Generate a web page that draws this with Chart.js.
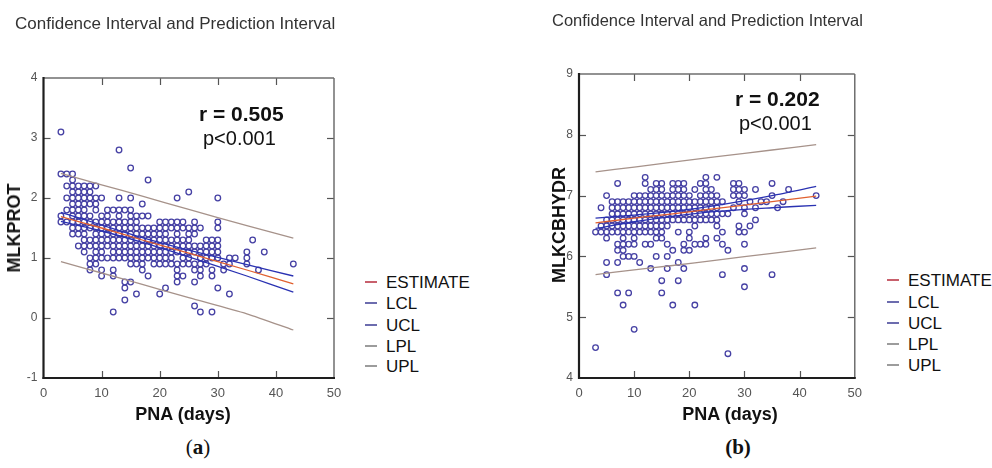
<!DOCTYPE html>
<html>
<head>
<meta charset="utf-8">
<script src="https://cdn.jsdelivr.net/npm/chart.js@4.4.1/dist/chart.umd.min.js"></script>
<style>
  html, body { margin: 0; padding: 0; background: #fff; }
  #wrap { position: relative; width: 992px; height: 468px; overflow: hidden;
          font-family: "Liberation Sans", Arial, sans-serif; color: #111; }
  canvas { position: absolute; top: 0; }
  .t { position: absolute; white-space: nowrap; line-height: 1; }
  .mid { transform: translateY(-50%); }
  .ctr { transform: translate(-50%, -50%); }
  .rot { transform: translate(-50%, -50%) rotate(-90deg); }
  .title { color: #333; }
  .bold { font-weight: bold; }
  .sw { position: absolute; height: 1.5px; width: 12px; }
  .cap { font-family: "Liberation Serif", "DejaVu Serif", serif; font-size: 21px; }
</style>
</head>
<body>
<div id="wrap">
  <canvas id="chartA" width="350" height="430" style="left:0px"></canvas>
  <canvas id="chartB" width="330" height="430" style="left:540px"></canvas>

  <div class="t mid title" style="left:15px;top:23px;font-size:17px">Confidence Interval and Prediction Interval</div>
  <div class="t mid title" style="left:552px;top:20px;font-size:16.5px">Confidence Interval and Prediction Interval</div>

  <div class="t mid bold" style="left:199px;top:113px;font-size:21px">r = 0.505</div>
  <div class="t mid" style="left:203px;top:138px;font-size:20px">p&lt;0.001</div>
  <div class="t mid bold" style="left:735px;top:98px;font-size:21px">r = 0.202</div>
  <div class="t mid" style="left:739px;top:123px;font-size:20px">p&lt;0.001</div>

  <div class="t rot bold" style="left:14px;top:228px;font-size:18px">MLKPROT</div>
  <div class="t rot bold" style="left:559px;top:225px;font-size:18px">MLKCBHYDR</div>
  <div class="t ctr bold" style="left:183px;top:414px;font-size:18px">PNA (days)</div>
  <div class="t ctr bold" style="left:730px;top:414px;font-size:18px">PNA (days)</div>

  <div class="t ctr cap" style="left:198px;top:447px">(<b>a</b>)</div>
  <div class="t ctr cap bold" style="left:738px;top:447px">(b)</div>

  <div id="legendA"></div>
  <div id="legendB"></div>
</div>
<script>
Chart.defaults.font.family = '"Liberation Sans", Arial, sans-serif';

// fitted lines, read at a few PNA values
const lineDays = [3, 10, 17, 25, 35, 43];

// (a) MLKPROT
const estimateA = [1.69, 1.50, 1.30, 1.08, 0.80, 0.57];
const lclA = [1.61, 1.45, 1.26, 1.02, 0.70, 0.43];
const uclA = [1.76, 1.55, 1.34, 1.13, 0.89, 0.70];
const lplA = [0.94, 0.75, 0.56, 0.34, 0.07, -0.20];
const uplA = [2.41, 2.22, 2.03, 1.81, 1.54, 1.33];

const protDays = [3, 4, 5, 6, 7, 8, 9, 10, 11, 12, 13, 14, 15, 16, 17, 18, 19, 20, 21, 22,
  23, 24, 25, 26, 27, 28, 29, 30, 31, 32, 33, 35, 36, 37, 38, 43];
const protValues = [
  [3.1, 2.4, 1.7, 1.6],
  [2.4, 2.2, 2.0, 1.8, 1.6],
  [2.4, 2.3, 2.2, 2.1, 2.0, 1.9, 1.8, 1.7, 1.6, 1.5, 1.4],
  [2.2, 2.1, 2.0, 1.9, 1.8, 1.7, 1.6, 1.5, 1.4, 1.2],
  [2.2, 2.1, 2.0, 1.9, 1.8, 1.7, 1.6, 1.5, 1.4, 1.3, 1.2, 1.1],
  [2.2, 2.1, 2.0, 1.9, 1.7, 1.6, 1.5, 1.3, 1.2, 1.0, 0.9, 0.8],
  [2.2, 2.0, 1.9, 1.8, 1.6, 1.5, 1.4, 1.3, 1.2, 1.1, 1.0, 0.9],
  [2.0, 1.7, 1.6, 1.5, 1.4, 1.3, 1.2, 1.1, 1.0, 0.8, 0.7],
  [1.8, 1.7, 1.6, 1.5, 1.4, 1.3, 1.2, 1.0],
  [1.8, 1.6, 1.5, 1.4, 1.3, 1.2, 1.1, 1.0, 0.8, 0.7, 0.1],
  [2.8, 2.0, 1.8, 1.7, 1.6, 1.5, 1.4, 1.3, 1.2, 1.1, 1.0],
  [1.8, 1.6, 1.5, 1.4, 1.3, 1.2, 1.1, 1.0, 0.6, 0.5, 0.3],
  [2.5, 2.0, 1.8, 1.7, 1.6, 1.5, 1.4, 1.3, 1.2, 1.1, 1.0, 0.9, 0.6],
  [1.7, 1.6, 1.5, 1.4, 1.3, 1.2, 1.1, 1.0, 0.9, 0.4],
  [1.9, 1.7, 1.5, 1.4, 1.3, 1.2, 1.1, 1.0, 0.9, 0.8],
  [2.3, 1.7, 1.5, 1.4, 1.3, 1.2, 1.1, 1.0, 0.7],
  [1.5, 1.4, 1.3, 1.2, 1.1, 1.0, 0.9],
  [1.6, 1.5, 1.4, 1.3, 1.2, 1.1, 1.0, 0.9, 0.4],
  [1.6, 1.5, 1.4, 1.3, 1.2, 1.1, 1.0, 0.9, 0.5],
  [1.6, 1.5, 1.3, 1.2, 1.1, 1.0, 0.9],
  [2.0, 1.6, 1.5, 1.4, 1.3, 1.2, 1.1, 0.9, 0.8, 0.7, 0.6],
  [1.6, 1.5, 1.3, 1.2, 1.1, 1.0, 0.9, 0.7],
  [2.1, 1.5, 1.4, 1.3, 1.2, 1.1, 1.0, 0.9],
  [1.6, 1.5, 1.4, 1.2, 1.1, 0.9, 0.8, 0.6, 0.2],
  [1.5, 1.2, 1.1, 1.0, 0.9, 0.8, 0.7, 0.1],
  [1.3, 1.2, 1.1, 1.0, 0.9],
  [1.3, 1.2, 1.1, 1.0, 0.8, 0.7, 0.1],
  [2.0, 1.6, 1.5, 1.3, 1.2, 1.1, 1.0, 0.5],
  [0.9, 0.8],
  [1.0, 0.9, 0.4],
  [1.0],
  [1.1, 1.0, 0.9],
  [1.3],
  [0.8],
  [1.1],
  [0.9]
];

// (b) MLKCBHYDR
const estimateB = [6.55, 6.63, 6.70, 6.79, 6.90, 6.99];
const lclB = [6.46, 6.57, 6.66, 6.74, 6.80, 6.84];
const uclB = [6.63, 6.68, 6.74, 6.84, 7.00, 7.15];
const lplB = [5.70, 5.78, 5.85, 5.94, 6.05, 6.14];
const uplB = [7.39, 7.47, 7.55, 7.64, 7.75, 7.84];

const hydrDays = [3, 4, 5, 6, 7, 8, 9, 10, 11, 12, 13, 14, 15, 16, 17, 18, 19, 20, 21, 22,
  23, 24, 25, 26, 27, 28, 29, 30, 31, 32, 33, 34, 35, 36, 37, 38, 43];
const hydrValues = [
  [4.5, 6.4],
  [6.8, 6.5, 6.4],
  [7.0, 6.6, 6.5, 6.4, 6.3, 5.9, 5.7],
  [6.9, 6.8, 6.7, 6.6, 6.5, 6.4],
  [7.2, 6.9, 6.8, 6.7, 6.6, 6.5, 6.4, 6.2, 6.1, 5.9, 5.4],
  [6.9, 6.8, 6.7, 6.6, 6.5, 6.4, 6.3, 6.2, 6.1, 6.0, 5.2],
  [6.9, 6.8, 6.7, 6.6, 6.5, 6.4, 6.2, 6.0, 5.4],
  [7.0, 6.9, 6.8, 6.7, 6.6, 6.5, 6.4, 6.3, 6.2, 6.0, 4.8],
  [7.0, 6.9, 6.8, 6.7, 6.6, 6.5, 6.4, 5.9],
  [7.3, 7.2, 7.0, 6.9, 6.8, 6.7, 6.6, 6.5, 6.4, 6.2],
  [7.1, 7.0, 6.9, 6.8, 6.7, 6.6, 6.5, 6.4, 6.2, 5.8],
  [7.2, 7.1, 7.0, 6.9, 6.8, 6.7, 6.6, 6.5, 6.4, 6.3, 6.0],
  [7.2, 7.1, 7.0, 6.9, 6.8, 6.7, 6.6, 6.5, 6.4, 6.3, 5.6, 5.4],
  [7.0, 6.9, 6.8, 6.7, 6.6, 6.5, 6.2, 6.0, 5.8],
  [7.2, 7.1, 7.0, 6.9, 6.8, 6.7, 6.6, 6.1, 5.2],
  [7.2, 7.1, 7.0, 6.9, 6.8, 6.7, 6.6, 6.4, 5.9, 5.6],
  [7.2, 7.1, 7.0, 6.9, 6.8, 6.7, 6.6, 6.2, 6.1, 5.8],
  [7.0, 6.9, 6.8, 6.7, 6.6, 6.4, 6.3, 6.1],
  [7.1, 6.9, 6.8, 6.7, 6.6, 6.5, 6.2, 5.2],
  [7.2, 7.0, 6.9, 6.8, 6.7, 6.6, 6.2],
  [7.3, 7.2, 7.1, 7.0, 6.9, 6.8, 6.7, 6.6, 6.3, 6.2],
  [7.1, 7.0, 6.9, 6.8, 6.7, 6.6],
  [7.3, 7.0, 6.9, 6.8, 6.7, 6.6, 6.5, 6.3],
  [6.9, 6.7, 6.4, 6.2, 5.7],
  [6.7, 6.1, 4.4],
  [7.2, 7.1, 7.0, 6.8],
  [7.2, 7.1, 7.0, 6.9, 6.5, 6.4],
  [7.1, 7.0, 6.8, 6.7, 6.4, 6.2, 5.8, 5.5],
  [6.9, 6.5],
  [7.1, 6.8, 6.6],
  [6.9],
  [6.9],
  [7.2, 7.0, 5.7],
  [6.8],
  [6.9],
  [7.1],
  [7.0]
];

const legendLabels = ['ESTIMATE', 'LCL', 'UCL', 'LPL', 'UPL'];
const lineColors = ['#e0602f', '#2a32b2', '#2a32b2', '#a6928a', '#a6928a'];
const swatchColors = ['#c8606c', '#6c6cae', '#6c6cae', '#9c9c9c', '#9c9c9c'];

function pts(xs, ys) {
  return xs.map((x, i) => ({ x: x, y: ys[i] }));
}

function cloud(days, values) {
  const out = [];
  days.forEach((d, i) => values[i].forEach(v => out.push({ x: d, y: v })));
  return out;
}

// inward tick marks + frame (thick left/bottom, thin grey top/right)
const frameTicks = {
  id: 'frameTicks',
  afterDraw(chart) {
    const { ctx, chartArea: a, scales: { x, y } } = chart;
    const seg = (x1, y1, x2, y2) => { ctx.beginPath(); ctx.moveTo(x1, y1); ctx.lineTo(x2, y2); ctx.stroke(); };
    ctx.save();
    ctx.strokeStyle = '#555';
    ctx.lineWidth = 1.2;
    x.ticks.forEach(t => {
      const px = Math.round(x.getPixelForValue(t.value)) + 0.5;
      if (px < a.left + 2 || px > a.right - 2) return;
      seg(px, a.bottom, px, a.bottom - 7);
      seg(px, a.top, px, a.top + 7);
    });
    y.ticks.forEach(t => {
      const py = Math.round(y.getPixelForValue(t.value)) + 0.5;
      if (py < a.top + 2 || py > a.bottom - 2) return;
      seg(a.left, py, a.left + 7, py);
      seg(a.right, py, a.right - 7, py);
    });
    ctx.strokeStyle = '#6e6e6e';
    ctx.lineWidth = 1.5;
    seg(a.left, a.top, a.right, a.top);
    seg(a.right, a.top, a.right, a.bottom);
    ctx.strokeStyle = '#1e1e1e';
    ctx.lineWidth = 2.2;
    seg(a.left, a.top - 1, a.left, a.bottom + 1);
    seg(a.left - 1, a.bottom, a.right + 1, a.bottom);
    ctx.restore();
  }
};

function makeChart(id, series, days, values, yMin, yMax, pad, yWidth) {
  const lineSets = series.map((ys, i) => ({
    label: legendLabels[i],
    data: pts(lineDays, ys),
    showLine: true,
    borderColor: lineColors[i],
    borderWidth: 1.3,
    pointRadius: 0,
    tension: 0.25,
    fill: false
  }));
  return new Chart(document.getElementById(id), {
    type: 'scatter',
    data: {
      datasets: lineSets.concat([{
        label: 'data',
        data: cloud(days, values),
        pointStyle: 'circle',
        pointRadius: 2.8,
        borderWidth: 1.3,
        borderColor: '#4641a4',
        backgroundColor: 'rgba(255,255,255,0)'
      }])
    },
    options: {
      responsive: false,
      animation: false,
      layout: { padding: pad },
      plugins: { legend: { display: false }, tooltip: { enabled: false } },
      scales: {
        x: {
          type: 'linear', min: 0, max: 50,
          ticks: { stepSize: 10, padding: 8, color: '#555', font: { size: 13 } },
          grid: { display: false, drawTicks: false },
          border: { display: false },
          afterFit(s) { s.height = 52; }
        },
        y: {
          type: 'linear', min: yMin, max: yMax,
          ticks: { stepSize: 1, padding: 6, color: '#555', font: { size: 12 } },
          grid: { display: false, drawTicks: false },
          border: { display: false },
          afterFit(s) { s.width = yWidth; }
        }
      }
    },
    plugins: [frameTicks]
  });
}

function makeLegend(id, left, textLeft, rows) {
  const box = document.getElementById(id);
  legendLabels.forEach((lab, i) => {
    const sw = document.createElement('div');
    sw.className = 'sw';
    sw.style.left = left + 'px';
    sw.style.top = (rows[i] - 0.75) + 'px';
    sw.style.background = swatchColors[i];
    box.appendChild(sw);
    const tx = document.createElement('div');
    tx.className = 't mid';
    tx.style.left = textLeft + 'px';
    tx.style.top = rows[i] + 'px';
    tx.style.fontSize = '17px';
    tx.textContent = lab;
    box.appendChild(tx);
  });
}

makeChart('chartA', [estimateA, lclA, uclA, lplA, uplA], protDays, protValues, -1, 4,
  { top: 78, right: 16, bottom: 0, left: 0 }, 43.5);
makeChart('chartB', [estimateB, lclB, uclB, lplB, uplB], hydrDays, hydrValues, 4, 9,
  { top: 74, right: 10, bottom: 0, left: 0 }, 39);

makeLegend('legendA', 365, 386, [282, 303, 325, 346, 366]);
makeLegend('legendB', 887, 908, [280, 302, 323, 344, 365]);
</script>
</body>
</html>
